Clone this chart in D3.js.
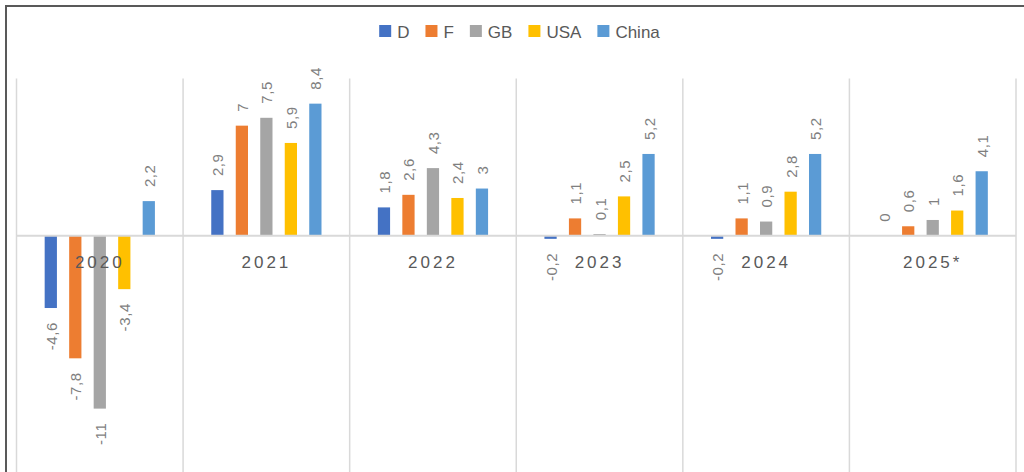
<!DOCTYPE html>
<html>
<head>
<meta charset="utf-8">
<script src="https://cdn.jsdelivr.net/npm/d3@7"></script>
<style>
  html, body { margin: 0; padding: 0; background: #fff; }
  svg { display: block; }
  text { font-family: "Liberation Sans", Arial, sans-serif; }
</style>
</head>
<body>
<svg id="chart" width="1024" height="472"></svg>
<script>
const years = ["2020", "2021", "2022", "2023", "2024", "2025*"];
const seriesNames = ["D", "F", "GB", "USA", "China"];
const seriesColors = ["#4472C4", "#ED7D31", "#A5A5A5", "#FFC000", "#5B9BD5"];
const valuesD = [-4.6, 2.9, 1.8, -0.2, -0.2, 0];
const valuesF = [-7.8, 7, 2.6, 1.1, 1.1, 0.6];
const valuesGB = [-11, 7.5, 4.3, 0.1, 0.9, 1];
const valuesUSA = [-3.4, 5.9, 2.4, 2.5, 2.8, 1.6];
const valuesChina = [2.2, 8.4, 3, 5.2, 5.2, 4.1];
const yDomain = [-15, 10];

const seriesValues = [valuesD, valuesF, valuesGB, valuesUSA, valuesChina];

const svg = d3.select("#chart");
const W = 1024, H = 472;

// frame (top and left edge)
svg.append("line").attr("x1", 5.5).attr("x2", W).attr("y1", 6).attr("y2", 6)
  .attr("stroke", "#595959").attr("stroke-width", 2);
svg.append("line").attr("x1", 6).attr("x2", 6).attr("y1", 5).attr("y2", H)
  .attr("stroke", "#595959").attr("stroke-width", 2);

const plotLeft = 16.5, plotRight = 1016, plotTop = 78.5, plotBottom = 471.5;

const x0 = d3.scaleBand().domain(years).range([plotLeft, plotRight]).padding(0);
const x1 = d3.scaleBand().domain(seriesNames).range([0, x0.bandwidth()])
  .paddingInner(0.5).paddingOuter(1.15);
const y = d3.scaleLinear().domain(yDomain).range([plotBottom, plotTop]);

// vertical gridlines at category boundaries
const bounds = years.map(d => x0(d)).concat([x0(years[years.length - 1]) + x0.bandwidth()]);
svg.append("g").selectAll("line").data(bounds).join("line")
  .attr("x1", d => d).attr("x2", d => d)
  .attr("y1", plotTop).attr("y2", plotBottom + 2)
  .attr("stroke", "#d9d9d9").attr("stroke-width", 1.5);

// bars
const data = [];
years.forEach((yr, i) => {
  seriesNames.forEach((s, j) => {
    data.push({ year: yr, series: s, value: seriesValues[j][i], color: seriesColors[j] });
  });
});

const g = svg.append("g");
g.selectAll("rect").data(data).join("rect")
  .attr("x", d => x0(d.year) + x1(d.series))
  .attr("width", x1.bandwidth())
  .attr("y", d => y(Math.max(0, d.value)))
  .attr("height", d => Math.abs(y(d.value) - y(0)))
  .attr("fill", d => d.color);

// zero axis line
svg.append("line").attr("x1", plotLeft).attr("x2", plotRight)
  .attr("y1", y(0)).attr("y2", y(0))
  .attr("stroke", "#d9d9d9").attr("stroke-width", 2);

// value labels
const fmt = v => String(v).replace(".", ",");
g.selectAll("text.val").data(data).join("text")
  .attr("class", "val")
  .attr("transform", d => {
    const cx = x0(d.year) + x1(d.series) + x1.bandwidth() / 2 + 0.5;
    const yy = d.value >= 0 ? y(d.value) - 14 : y(d.value) + 14;
    return `translate(${cx},${yy}) rotate(-90)`;
  })
  .attr("text-anchor", d => d.value >= 0 ? "start" : "end")
  .attr("dominant-baseline", "central")
  .attr("font-size", 15)
  .attr("letter-spacing", 0.6)
  .attr("fill", "#7f7f7f")
  .text(d => fmt(d.value));

// category axis
const axis = d3.axisBottom(x0).tickSize(0).tickPadding(0);
const ax = svg.append("g").attr("transform", `translate(0,${y(0)})`).call(axis);
ax.select(".domain").remove();
ax.selectAll("text")
  .attr("y", 32)
  .attr("dy", 0)
  .attr("font-family", "Liberation Sans, Arial, sans-serif")
  .attr("font-size", 17)
  .attr("letter-spacing", 3)
  .attr("fill", "#595959");

// legend
const legend = svg.append("g");
const items = legend.selectAll("g").data(seriesNames).join("g");
items.append("rect").attr("width", 12).attr("height", 12).attr("y", 25)
  .attr("fill", (d, i) => seriesColors[i]);
items.append("text").attr("x", 18).attr("y", 37.5)
  .attr("font-size", 17).attr("fill", "#595959").text(d => d);
let cx = 0;
const offsets = [];
items.each(function (d) {
  const w = 18 + d3.select(this).select("text").node().getComputedTextLength();
  offsets.push(cx);
  cx += w + 16;
});
const totalW = cx - 16;
const startX = 519.5 - totalW / 2;
items.attr("transform", (d, i) => `translate(${startX + offsets[i]},0)`);
</script>
</body>
</html>
